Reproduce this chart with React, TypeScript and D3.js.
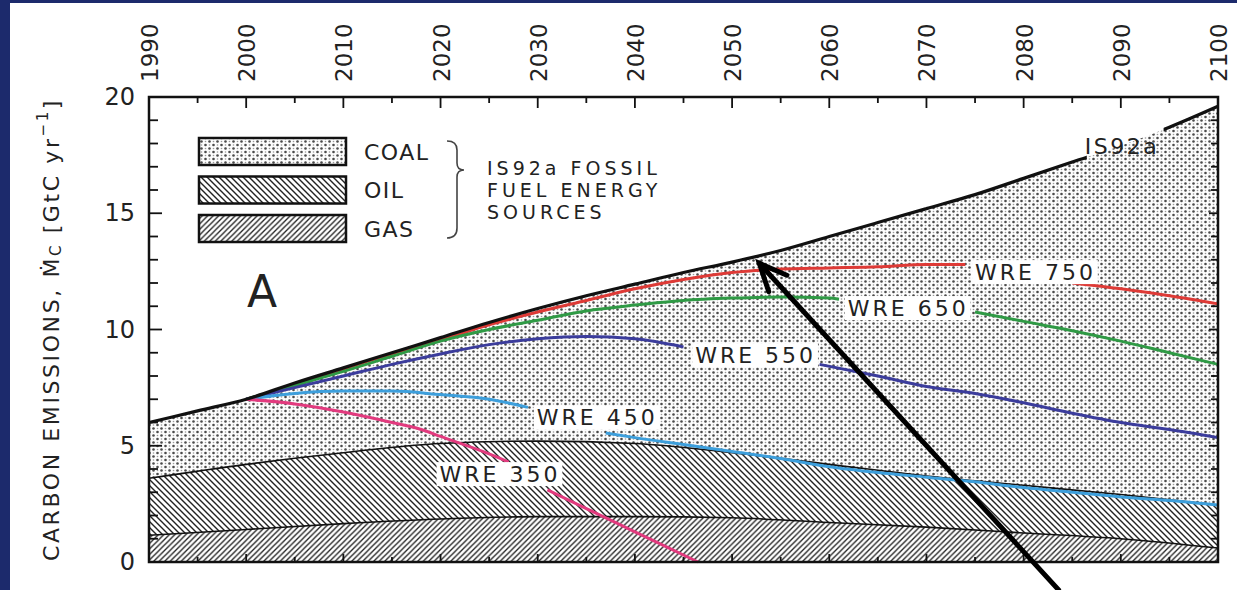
import React from "react";
import * as d3 from "d3";

// ---------- DATA ----------
const is92aYears = [1990, 1995, 2000, 2005, 2010, 2015, 2020, 2025, 2030, 2035, 2040, 2045, 2050, 2055, 2060, 2065, 2070, 2075, 2080, 2085, 2090, 2095, 2100];
const is92aValues = [6.0, 6.5, 7.0, 7.7, 8.35, 9.0, 9.65, 10.3, 10.9, 11.45, 11.95, 12.45, 12.9, 13.4, 14.0, 14.6, 15.2, 15.8, 16.5, 17.2, 17.9, 18.7, 19.6];

const fuelYears = [1990, 2000, 2010, 2020, 2030, 2040, 2050, 2060, 2070, 2080, 2090, 2100];
const gasTop = [1.15, 1.4, 1.65, 1.85, 1.95, 1.95, 1.9, 1.7, 1.5, 1.25, 1.0, 0.6];
const oilTop = [3.6, 4.2, 4.7, 5.1, 5.2, 5.1, 4.7, 4.2, 3.7, 3.3, 2.9, 2.45];

const wre750Years = [2000, 2005, 2010, 2015, 2020, 2025, 2030, 2035, 2040, 2045, 2050, 2055, 2060, 2065, 2070, 2074, 2080, 2085, 2090, 2095, 2100];
const wre750Values = [7.0, 7.6, 8.3, 8.95, 9.55, 10.2, 10.75, 11.25, 11.75, 12.15, 12.45, 12.6, 12.65, 12.7, 12.8, 12.8, null, 12.0, 11.75, 11.45, 11.1];

const wre650Years = [2000, 2005, 2010, 2015, 2020, 2025, 2030, 2035, 2040, 2045, 2050, 2055, 2060, 2061, 2068, 2075, 2080, 2085, 2090, 2095, 2100];
const wre650Values = [7.0, 7.6, 8.2, 8.85, 9.5, 10.0, 10.4, 10.8, 11.05, 11.25, 11.35, 11.4, 11.35, 11.3, null, 10.75, 10.35, 9.95, 9.5, 9.0, 8.5];

const wre550Years = [2000, 2005, 2010, 2015, 2020, 2025, 2030, 2035, 2040, 2045, 2052, 2059, 2065, 2070, 2075, 2080, 2085, 2090, 2095, 2100];
const wre550Values = [7.0, 7.5, 8.0, 8.5, 8.95, 9.35, 9.6, 9.7, 9.6, 9.25, null, 8.5, 8.0, 7.55, 7.25, 6.85, 6.4, 6.0, 5.7, 5.35];

const wre450Years = [2000, 2005, 2010, 2015, 2020, 2025, 2029, 2033, 2037, 2040, 2045, 2050, 2055, 2060, 2065, 2070, 2075, 2080, 2085, 2090, 2095, 2100];
const wre450Values = [7.0, 7.25, 7.35, 7.35, 7.2, 7.0, 6.65, null, 5.55, 5.35, 5.05, 4.75, 4.45, 4.1, 3.85, 3.65, 3.45, 3.2, 3.0, 2.8, 2.65, 2.45];

const wre350Years = [2000, 2005, 2010, 2015, 2018, 2020, 2025, 2027, 2029, 2031, 2035, 2040, 2046.5];
const wre350Values = [7.0, 6.8, 6.45, 6.0, 5.7, 5.4, 4.65, 4.3, null, 3.1, 2.3, 1.3, 0.0];

const xTickYears = d3.range(1990, 2101, 10);
const yTickValues = [0, 5, 10, 15, 20];

const seriesLabels = [
  { text: "WRE 750", year: 2075.0, value: 12.47 },
  { text: "WRE 650", year: 2061.9, value: 10.92 },
  { text: "WRE 550", year: 2046.2, value: 8.9 },
  { text: "WRE 450", year: 2029.9, value: 6.2 },
  { text: "WRE 350", year: 2019.9, value: 3.78 },
];
const is92aLabel = { text: "IS92a", year: 2086.3, value: 17.85 };

const legendItems = ["COAL", "OIL", "GAS"];
const legendNote = ["IS92a FOSSIL", "FUEL ENERGY", "SOURCES"];

const COLORS = {
  wre750: "#de3a36",
  wre650: "#2f9a45",
  wre550: "#3b3c9c",
  wre450: "#3d9fdc",
  wre350: "#e23a7e",
};

type P = { yr: number; v: number | null };
const pts = (ys: number[], vs: (number | null)[]): P[] => ys.map((yr, i) => ({ yr, v: vs[i] }));

export default function App() {
  const W = 1237;
  const H = 590;
  const x = d3.scaleLinear().domain([1990, 2100]).range([149, 1218]);
  const y = d3.scaleLinear().domain([0, 20]).range([562, 97]);

  const line = d3
    .line<P>()
    .defined((d) => d.v != null)
    .x((d) => x(d.yr))
    .y((d) => y(d.v as number))
    .curve(d3.curveMonotoneX);

  const areaTo = d3
    .area<P>()
    .x((d) => x(d.yr))
    .y0(() => y(0))
    .y1((d) => y(d.v as number))
    .curve(d3.curveMonotoneX);

  const is92a = pts(is92aYears, is92aValues);
  const oil = pts(fuelYears, oilTop);
  const gas = pts(fuelYears, gasTop);

  const wres = [
    { d: pts(wre750Years, wre750Values), c: COLORS.wre750 },
    { d: pts(wre650Years, wre650Values), c: COLORS.wre650 },
    { d: pts(wre550Years, wre550Values), c: COLORS.wre550 },
    { d: pts(wre450Years, wre450Values), c: COLORS.wre450 },
    { d: pts(wre350Years, wre350Values), c: COLORS.wre350 },
  ];

  const font = "'DejaVu Sans', 'Liberation Sans', sans-serif";
  const x0 = x(1990), x1 = x(2100), yTop = y(20), yBot = y(0);

  const xMinor = d3.range(1990, 2101, 5);
  const yMinor = d3.range(0, 21, 1);

  // arrow annotation
  const tip = [x(2052.8), y(12.85)];
  const tail = [x(2083.6), y(-1.2)];
  const ang = Math.atan2(tail[1] - tip[1], tail[0] - tip[0]);
  const armL = 30, spread = 0.42;
  const arm1 = [tip[0] + armL * Math.cos(ang + spread), tip[1] + armL * Math.sin(ang + spread)];
  const arm2 = [tip[0] + armL * Math.cos(ang - spread), tip[1] + armL * Math.sin(ang - spread)];

  const charW = 17.4;

  return (
    <svg width={W} height={H} style={{ position: "absolute", left: 0, top: 0, background: "#fff" }}>
      <defs>
        <pattern id="dots" patternUnits="userSpaceOnUse" width="8" height="7">
          <rect width="8" height="7" fill="#fdfdfd" />
          <circle cx="1.5" cy="1.5" r="1.3" fill="#4a4a4a" />
          <circle cx="5.5" cy="5" r="1.3" fill="#4a4a4a" />
          <circle cx="5.5" cy="1.5" r="0.8" fill="#999" />
          <circle cx="1.5" cy="5" r="0.8" fill="#999" />
        </pattern>
        <pattern id="back" patternUnits="userSpaceOnUse" width="6" height="6">
          <rect width="6" height="6" fill="#fff" />
          <path d="M0,0 L6,6 M-1,5 L1,7 M5,-1 L7,1" stroke="#222" strokeWidth="1.4" />
        </pattern>
        <pattern id="fwd" patternUnits="userSpaceOnUse" width="5.5" height="5.5">
          <rect width="5.5" height="5.5" fill="#fff" />
          <path d="M0,5.5 L5.5,0 M-1,1 L1,-1 M4.5,6.5 L6.5,4.5" stroke="#222" strokeWidth="1.3" />
        </pattern>
        <clipPath id="is92aClip">
          <rect x={x0 - 5} y={0} width={x(2086.5) - x0 + 5} height={H} />
          <rect x={x(2094.4)} y={0} width={x1 - x(2094.4) + 5} height={H} />
        </clipPath>
      </defs>

      {/* scan border */}
      <rect x={0} y={0} width={10} height={H} fill="#1c2a6c" />
      <rect x={0} y={0} width={W} height={3} fill="#1c2a6c" />

      {/* stacked fuel areas */}
      <path d={areaTo(is92a) || ""} fill="url(#dots)" />
      <path d={areaTo(oil) || ""} fill="url(#back)" />
      <path d={areaTo(gas) || ""} fill="url(#fwd)" />
      <path d={line(oil) || ""} fill="none" stroke="#111" strokeWidth={1.6} />
      <path d={line(gas) || ""} fill="none" stroke="#111" strokeWidth={1.6} />

      {/* WRE lines */}
      {wres.map((s, i) => (
        <path key={i} d={line(s.d) || ""} fill="none" stroke={s.c} strokeWidth={3} />
      ))}

      {/* IS92a line */}
      <path d={line(is92a) || ""} fill="none" stroke="#111" strokeWidth={3.2} clipPath="url(#is92aClip)" />

      {/* series labels */}
      {seriesLabels.map((l) => (
        <g key={l.text}>
          <rect x={x(l.year) - 3} y={y(l.value) - 12} width={l.text.length * charW + 4} height={24} fill="#fff" />
          <text x={x(l.year)} y={y(l.value)} dominantBaseline="central" fontFamily={font} fontSize={22} letterSpacing={3} fill="#222">
            {l.text}
          </text>
        </g>
      ))}
      <text x={x(is92aLabel.year)} y={y(is92aLabel.value)} dominantBaseline="central" fontFamily={font} fontSize={22} letterSpacing={2.5} fill="#222">
        {is92aLabel.text}
      </text>

      {/* frame */}
      <rect x={x0} y={yTop} width={x1 - x0} height={yBot - yTop} fill="none" stroke="#111" strokeWidth={2.5} />

      {/* x ticks top & bottom */}
      {xMinor.map((t) => {
        const major = t % 10 === 0;
        const L = major ? 11 : 6;
        return (
          <g key={"xt" + t}>
            <line x1={x(t)} x2={x(t)} y1={yTop} y2={yTop + L} stroke="#111" strokeWidth={1.8} />
            <line x1={x(t)} x2={x(t)} y1={yBot} y2={yBot - (major ? 8 : 5)} stroke="#111" strokeWidth={1.8} />
          </g>
        );
      })}
      {/* y ticks left & right */}
      {yMinor.map((t) => {
        const major = t % 5 === 0;
        return (
          <g key={"yt" + t}>
            <line x1={x0} x2={x0 + (major ? 13 : 9)} y1={y(t)} y2={y(t)} stroke="#111" strokeWidth={1.8} />
            <line x1={x1} x2={x1 - (major ? 9 : 7)} y1={y(t)} y2={y(t)} stroke="#111" strokeWidth={1.8} />
          </g>
        );
      })}

      {/* x tick labels (rotated, top) */}
      {xTickYears.map((t) => (
        <text
          key={"xl" + t}
          transform={`translate(${x(t) + 1},82) rotate(-90)`}
          textAnchor="start"
          dominantBaseline="central"
          fontFamily={font}
          fontSize={23}
          fill="#222"
        >
          {t}
        </text>
      ))}
      {/* y tick labels */}
      {yTickValues.map((t) => (
        <text key={"yl" + t} x={135} y={y(t)} textAnchor="end" dominantBaseline="central" fontFamily={font} fontSize={24} fill="#222">
          {t}
        </text>
      ))}

      {/* y axis title */}
      <text
        transform={`translate(51,${(yTop + yBot) / 2}) rotate(-90)`}
        textAnchor="middle"
        dominantBaseline="central"
        fontFamily={font}
        fontSize={22}
        letterSpacing={2.6}
        fill="#222"
      >
        CARBON EMISSIONS, Ṁ
        <tspan fontSize={15} dy={5}>C</tspan>
        <tspan dy={-5}> [GtC yr</tspan>
        <tspan fontSize={15} dy={-8}>−1</tspan>
        <tspan dy={8}>]</tspan>
      </text>

      {/* legend */}
      {legendItems.map((name, i) => {
        const fills = ["url(#dots)", "url(#back)", "url(#fwd)"];
        const by = 138 + i * 38.5;
        return (
          <g key={name}>
            <rect x={199} y={by} width={147} height={27} fill={fills[i]} stroke="#111" strokeWidth={2.5} />
            <text x={364} y={by + 14} dominantBaseline="central" fontFamily={font} fontSize={22} letterSpacing={1.5} fill="#222">
              {name}
            </text>
          </g>
        );
      })}
      <path d="M447,141 Q457,141 457,150 L457,163 Q457,170 464,170 Q457,170 457,177 L457,228 Q457,238 447,238" fill="none" stroke="#444" strokeWidth={1.6} />
      {legendNote.map((t, i) => (
        <text key={t} x={487} y={168 + i * 22} dominantBaseline="central" fontFamily={font} fontSize={19} letterSpacing={4} fill="#222">
          {t}
        </text>
      ))}

      {/* panel letter */}
      <text x={262} y={307} textAnchor="middle" fontFamily={font} fontSize={44} fill="#222">A</text>

      {/* arrow annotation */}
      <g stroke="#000" strokeWidth={5} strokeLinecap="round" fill="none">
        <line x1={tail[0]} y1={tail[1]} x2={tip[0]} y2={tip[1]} />
        <polyline points={`${arm1[0]},${arm1[1]} ${tip[0]},${tip[1]} ${arm2[0]},${arm2[1]}`} />
      </g>
    </svg>
  );
}
